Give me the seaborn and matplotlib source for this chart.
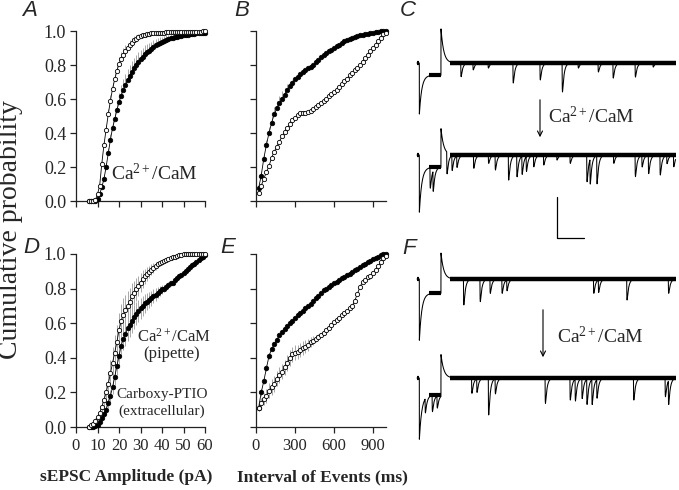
import numpy as np
import matplotlib
matplotlib.use("Agg")
import matplotlib.pyplot as plt
import seaborn as sns

W, H = 679, 490

# ------------------------
# Cumulative sEPSC amplitude (pA), 1 pA bins
# ------------------------
amp_x = np.arange(6, 61)

a_open = [0.0, 0.0, 0.0, 0.005, 0.04, 0.09, 0.22, 0.33, 0.42, 0.51,
          0.59, 0.66, 0.715, 0.765, 0.805, 0.835, 0.86, 0.88, 0.90, 0.915,
          0.93, 0.945, 0.955, 0.963, 0.97, 0.975, 0.979, 0.982, 0.985, 0.987,
          0.988, 0.989, 0.99, 0.99, 0.991, 0.991, 0.992, 0.992, 0.993, 0.993,
          0.993, 0.994, 0.994, 0.994, 0.995, 0.995, 0.995, 0.996, 0.996, 0.996,
          0.997, 0.997, 0.997, 0.998, 0.998]
a_open_sem = [0, 0, 0, 0, 0.005, 0.01, 0.015, 0.02, 0.025, 0.03,
              0.035, 0.04, 0.04, 0.04, 0.04, 0.04, 0.038, 0.035, 0.032, 0.03,
              0.028, 0.025, 0.022, 0.02, 0.018, 0.016, 0.014, 0.012, 0.011, 0.01,
              0.009, 0.009, 0.008, 0.008, 0.007, 0.007, 0.006, 0.006, 0.006, 0.005,
              0.005, 0.005, 0.005, 0.004, 0.004, 0.004, 0.004, 0.003, 0.003, 0.003,
              0.003, 0.002, 0.002, 0.002, 0.002]
a_fill = [0, 0, 0, 0, 0.01, 0.04, 0.08, 0.13, 0.20, 0.28,
          0.36, 0.43, 0.48, 0.535, 0.58, 0.62, 0.655, 0.685, 0.71, 0.735,
          0.76, 0.78, 0.80, 0.82, 0.835, 0.85, 0.865, 0.875, 0.885, 0.895,
          0.905, 0.915, 0.922, 0.93, 0.937, 0.943, 0.948, 0.952, 0.956, 0.96,
          0.963, 0.966, 0.969, 0.972, 0.974, 0.976, 0.978, 0.98, 0.982, 0.984,
          0.986, 0.987, 0.988, 0.989, 0.99]
a_fill_sem = [0, 0, 0, 0, 0.005, 0.01, 0.015, 0.02, 0.025, 0.03,
              0.035, 0.04, 0.045, 0.05, 0.055, 0.06, 0.065, 0.065, 0.065, 0.065,
              0.065, 0.062, 0.06, 0.058, 0.055, 0.052, 0.05, 0.047, 0.045, 0.042,
              0.04, 0.037, 0.035, 0.032, 0.03, 0.028, 0.026, 0.024, 0.022, 0.02,
              0.018, 0.016, 0.015, 0.014, 0.013, 0.012, 0.011, 0.01, 0.009, 0.008,
              0.007, 0.006, 0.005, 0.005, 0.005]

d_open = [0.0, 0.01, 0.02, 0.035, 0.055, 0.08, 0.115, 0.155, 0.20, 0.25,
          0.31, 0.37, 0.43, 0.49, 0.56, 0.61, 0.65, 0.675, 0.70, 0.725,
          0.755, 0.775, 0.795, 0.815, 0.835, 0.855, 0.87, 0.885, 0.895, 0.91,
          0.92, 0.93, 0.94, 0.947, 0.953, 0.96, 0.965, 0.97, 0.975, 0.98,
          0.985, 0.99, 0.995, 0.997, 0.998, 0.998, 0.999, 0.999, 0.999, 1.0,
          1.0, 1.0, 1.0, 1.0, 1.0]
d_open_sem = [0, 0.005, 0.01, 0.015, 0.02, 0.03, 0.04, 0.05, 0.06, 0.07,
              0.08, 0.09, 0.10, 0.10, 0.10, 0.10, 0.095, 0.09, 0.085, 0.08,
              0.075, 0.07, 0.065, 0.06, 0.055, 0.05, 0.045, 0.04, 0.035, 0.03,
              0.027, 0.024, 0.021, 0.018, 0.015, 0.013, 0.011, 0.01, 0.009, 0.008,
              0.007, 0.006, 0.005, 0.004, 0.003, 0.003, 0.002, 0.002, 0.002, 0.001,
              0.001, 0.001, 0.001, 0.001, 0.001]
d_fill = [0, 0, 0, 0.003, 0.012, 0.028, 0.05, 0.075, 0.10, 0.14,
          0.18, 0.23, 0.29, 0.35, 0.41, 0.47, 0.51, 0.54, 0.57, 0.59,
          0.615, 0.635, 0.655, 0.67, 0.685, 0.70, 0.715, 0.725, 0.735, 0.745,
          0.755, 0.765, 0.775, 0.785, 0.795, 0.80, 0.81, 0.82, 0.83, 0.835,
          0.85, 0.86, 0.87, 0.88, 0.89, 0.90, 0.915, 0.925, 0.935, 0.945,
          0.955, 0.965, 0.975, 0.985, 0.995]
d_fill_sem = [0, 0, 0, 0.002, 0.005, 0.01, 0.015, 0.02, 0.025, 0.03,
              0.035, 0.04, 0.045, 0.05, 0.055, 0.06, 0.065, 0.07, 0.07, 0.07,
              0.07, 0.068, 0.065, 0.062, 0.06, 0.057, 0.054, 0.05, 0.047, 0.044,
              0.04, 0.036, 0.032, 0.028, 0.025, 0.022, 0.019, 0.016, 0.013, 0.011,
              0.01, 0.009, 0.008, 0.007, 0.006, 0.005, 0.004, 0.004, 0.003, 0.003,
              0.002, 0.002, 0.002, 0.001, 0.001]

# ------------------------
# Cumulative inter-event interval (ms), 20 ms bins
# ------------------------
iei_x = np.arange(20, 1001, 20)

b_fill = [0.075, 0.15, 0.25, 0.33, 0.40, 0.46, 0.51, 0.545, 0.575, 0.60,
          0.625, 0.655, 0.675, 0.695, 0.715, 0.73, 0.745, 0.757, 0.77, 0.78,
          0.79, 0.80, 0.815, 0.83, 0.845, 0.86, 0.87, 0.88, 0.89, 0.90,
          0.91, 0.92, 0.93, 0.94, 0.947, 0.955, 0.96, 0.965, 0.97, 0.975,
          0.978, 0.981, 0.985, 0.988, 0.991, 0.994, 0.997, 0.999, 1.0, 1.0]
b_fill_sem = [0.01, 0.015, 0.02, 0.03, 0.035, 0.04, 0.045, 0.045, 0.045, 0.045,
              0.04, 0.035, 0.02, 0.015, 0.012, 0.01, 0.01, 0.01, 0.009, 0.009,
              0.009, 0.008, 0.008, 0.008, 0.008, 0.007, 0.007, 0.007, 0.007, 0.006,
              0.006, 0.006, 0.006, 0.005, 0.005, 0.005, 0.005, 0.004, 0.004, 0.004,
              0.004, 0.003, 0.003, 0.003, 0.003, 0.002, 0.002, 0.002, 0.001, 0.001]
b_open = [0.05, 0.09, 0.13, 0.17, 0.205, 0.255, 0.29, 0.32, 0.35, 0.38,
          0.405, 0.43, 0.455, 0.475, 0.49, 0.505, 0.515, 0.52, 0.52, 0.522,
          0.53, 0.54, 0.552, 0.565, 0.575, 0.587, 0.60, 0.615, 0.63, 0.64,
          0.655, 0.67, 0.69, 0.705, 0.72, 0.74, 0.755, 0.77, 0.785, 0.80,
          0.82, 0.84, 0.86, 0.88, 0.90, 0.92, 0.94, 0.96, 0.98, 0.99]
b_open_sem = [0.005, 0.008, 0.01, 0.01, 0.012, 0.012, 0.012, 0.012, 0.01, 0.01,
              0.01, 0.01, 0.01, 0.01, 0.01, 0.009, 0.009, 0.009, 0.009, 0.009,
              0.008, 0.008, 0.008, 0.008, 0.008, 0.008, 0.007, 0.007, 0.007, 0.007,
              0.007, 0.006, 0.006, 0.006, 0.006, 0.006, 0.005, 0.005, 0.005, 0.005,
              0.005, 0.004, 0.004, 0.004, 0.004, 0.003, 0.003, 0.003, 0.002, 0.002]

e_fill = [0.11, 0.20, 0.265, 0.34, 0.41, 0.45, 0.48, 0.505, 0.53, 0.55,
          0.568, 0.585, 0.60, 0.615, 0.63, 0.645, 0.66, 0.672, 0.685, 0.698,
          0.71, 0.73, 0.745, 0.76, 0.775, 0.79, 0.80, 0.81, 0.82, 0.83,
          0.84, 0.85, 0.86, 0.868, 0.876, 0.885, 0.895, 0.905, 0.915, 0.925,
          0.935, 0.945, 0.955, 0.962, 0.97, 0.978, 0.985, 0.995, 1.0, 1.0]
e_fill_sem = [0.02, 0.02, 0.018, 0.016, 0.015, 0.013, 0.012, 0.011, 0.01, 0.01,
              0.01, 0.009, 0.009, 0.009, 0.008, 0.008, 0.008, 0.008, 0.007, 0.007,
              0.007, 0.007, 0.006, 0.006, 0.006, 0.006, 0.005, 0.005, 0.005, 0.005,
              0.005, 0.004, 0.004, 0.004, 0.004, 0.004, 0.003, 0.003, 0.003, 0.003,
              0.003, 0.002, 0.002, 0.002, 0.002, 0.002, 0.001, 0.001, 0.001, 0.001]
e_open = [0.11, 0.14, 0.16, 0.18, 0.21, 0.23, 0.25, 0.28, 0.30, 0.32,
          0.345, 0.37, 0.40, 0.42, 0.43, 0.435, 0.445, 0.455, 0.465, 0.475,
          0.49, 0.50, 0.51, 0.522, 0.533, 0.545, 0.56, 0.575, 0.59, 0.605,
          0.62, 0.632, 0.645, 0.657, 0.67, 0.685, 0.70, 0.73, 0.77, 0.81,
          0.84, 0.85, 0.865, 0.875, 0.89, 0.91, 0.93, 0.955, 0.975, 0.99]
e_open_sem = [0.02, 0.03, 0.035, 0.04, 0.045, 0.045, 0.045, 0.045, 0.045, 0.045,
              0.045, 0.045, 0.045, 0.045, 0.042, 0.04, 0.04, 0.04, 0.038, 0.035,
              0.03, 0.025, 0.02, 0.015, 0.012, 0.01, 0.01, 0.01, 0.009, 0.009,
              0.009, 0.008, 0.008, 0.008, 0.008, 0.007, 0.007, 0.007, 0.007, 0.006,
              0.006, 0.006, 0.005, 0.005, 0.005, 0.004, 0.004, 0.003, 0.003, 0.002]

# ------------------------
# Example current traces: event times (ms after the step) and amplitudes (pA)
# ------------------------
c_top_t = [73, 118, 174, 266, 366, 448, 507, 581, 636, 718, 784]
c_top_a = [6.7, 3.4, 2.5, 9.8, 8.3, 14.2, 2.5, 4.4, 7.4, 6.9, 2.0]
c_bot_t = [-41, -30, 21, 40, 58, 120, 175, 200, 249, 280, 299, 315, 342,
           379, 428, 477, 539, 551, 576, 638, 718, 743, 767, 810, 835, 860]
c_bot_a = [10, 10, 10.6, 7.3, 5.7, 6.5, 4.1, 7.3, 12.3, 10.6, 9.0, 7.3, 5.7,
           4.9, 2.5, 4.1, 13.1, 12.3, 13.9, 4.1, 10.6, 5.7, 9.0, 9.8, 4.1, 5.7]
f_top_t = [83, 144, 181, 225, 243, 564, 582, 687, 841]
f_top_a = [12.7, 11.1, 7.0, 7.0, 5.4, 7.0, 6.2, 10.3, 7.0]
f_bot_t = [-59, -33, -15, 113, 132, 175, 200, 385, 477, 496, 521, 539, 558,
           576, 712, 829, 841]
f_bot_a = [7, 8, 6, 7.5, 6.7, 18.1, 7.5, 12.4, 10.8, 10.8, 9.9, 12.4, 12.4,
           9.2, 10.8, 9.2, 11.6]

# capacitive transient / holding step / rebound spike (pA) per trace
trace_transient = [25, 28, 30, 30]
trace_step = [6, 6, 7, 8.3]
trace_spike = [16.7, 13, 12.7, 12.2]

# ------------------------
# Style
# ------------------------
sns.set_style("ticks")
plt.rcParams["font.family"] = ["Liberation Serif", "DejaVu Serif"]
plt.rcParams["mathtext.fontset"] = "custom"
plt.rcParams["mathtext.rm"] = "Liberation Serif"
plt.rcParams["mathtext.it"] = "Liberation Serif:italic"

GRAY = "#a8a8a8"
fig = plt.figure(figsize=(W / 100, H / 100), dpi=100)
fig.patch.set_facecolor("white")


def rect(l, t, r, b):
    return [l / W, 1 - b / H, (r - l) / W, (b - t) / H]


def fpos(x, y):
    return x / W, 1 - y / H


def cdf_panel(ax, x, opn, opn_sem, fil, fil_sem, both_sides):
    opn, fil = np.array(opn), np.array(fil)
    for y, s in ((fil, np.array(fil_sem)), (opn, np.array(opn_sem))):
        lo = y - s if both_sides else y
        ax.vlines(x, lo, y + s, color=GRAY, lw=0.7, zorder=1)
    sns.lineplot(x=x, y=fil, ax=ax, color="k", lw=0.6, marker="o",
                 markersize=3.3, markerfacecolor="k", markeredgecolor="k",
                 markeredgewidth=0.5, errorbar=None, clip_on=False, zorder=3)
    sns.lineplot(x=x, y=opn, ax=ax, color="k", lw=0.6, marker="o",
                 markersize=3.1, markerfacecolor="white", markeredgecolor="k",
                 markeredgewidth=0.6, errorbar=None, clip_on=False, zorder=4)
    ax.set_ylim(0, 1)
    ax.set_yticks(np.arange(0, 1.01, 0.2))
    sns.despine(ax=ax)
    for sp in ("left", "bottom"):
        ax.spines[sp].set_linewidth(0.9)
        ax.spines[sp].set_color("#222222")
    ax.tick_params(direction="out", length=4, width=0.9, color="#222222",
                   labelsize=13, pad=3)
    ax.set_xlabel("")
    ax.set_ylabel("")


ax_a = fig.add_axes(rect(76, 31, 205, 201))
ax_b = fig.add_axes(rect(256, 31, 386, 201))
ax_d = fig.add_axes(rect(76, 254, 205, 427))
ax_e = fig.add_axes(rect(256, 254, 386, 427))

cdf_panel(ax_a, amp_x, a_open, a_open_sem, a_fill, a_fill_sem, False)
cdf_panel(ax_b, iei_x, b_open, b_open_sem, b_fill, b_fill_sem, False)
cdf_panel(ax_d, amp_x, d_open, d_open_sem, d_fill, d_fill_sem, True)
cdf_panel(ax_e, iei_x, e_open, e_open_sem, e_fill, e_fill_sem, True)

for ax in (ax_a, ax_d):
    ax.set_xlim(0, 60)
    ax.set_xticks(range(0, 61, 10))
    ax.set_yticklabels([f"{v:.1f}" for v in np.arange(0, 1.01, 0.2)])
for ax in (ax_b, ax_e):
    ax.set_xlim(0, 1000)
    ax.set_xticks([0, 300, 600, 900])
    ax.set_yticklabels([])
ax_a.set_xticklabels([])
ax_b.set_xticklabels([])
ax_d.tick_params(axis="x", pad=4, labelsize=12)
ax_e.tick_params(axis="x", pad=4, labelsize=12)

# ------------------------
# Traces
# ------------------------
MS_PER_PX = 3.7
PA_PER_PX = 0.49
T_START, PULSE_ON, T_END = -89, -80, 868
t = np.arange(T_START, T_END, 0.25)


def build_trace(trans, step, spike, ev_t, ev_a):
    y = np.zeros_like(t)
    on = (t >= PULSE_ON) & (t < 0)
    y[on] = -step - (trans - step) * np.exp(-(t[on] - PULSE_ON) / 9.0)
    post = t >= 0
    y[post] = spike * np.exp(-t[post] / 10.0)
    dd = np.linspace(0, 30, 601)
    norm = ((1 - np.exp(-dd / 0.6)) * np.exp(-dd / 6.0)).max()
    for ti, ai in zip(ev_t, ev_a):
        d = t - ti
        m = d >= 0
        y[m] -= ai * (1 - np.exp(-d[m] / 0.6)) * np.exp(-d[m] / 6.0) / norm
    return y


traces = [(c_top_t, c_top_a, 63), (c_bot_t, c_bot_a, 155),
          (f_top_t, f_top_a, 279), (f_bot_t, f_bot_a, 378)]
trace_axes = []
for i, (ev_t, ev_a, base_px) in enumerate(traces):
    top_pa, bot_pa = 25, -45
    ax = fig.add_axes(rect(410, base_px - top_pa / PA_PER_PX,
                           679, base_px - bot_pa / PA_PER_PX))
    ax.set_xlim((410 - 441) * MS_PER_PX, (679 - 441) * MS_PER_PX)
    ax.set_ylim(bot_pa, top_pa)
    ax.axis("off")
    ax.patch.set_alpha(0)
    y = build_trace(trace_transient[i], trace_step[i], trace_spike[i], ev_t, ev_a)
    # superimposed sweeps form a thick noise band
    ax.plot([T_START, PULSE_ON - 2], [0, 0], color="k", lw=3.0, solid_capstyle="butt")
    ax.plot([PULSE_ON + 35, -1], [-trace_step[i]] * 2, color="k", lw=3.0,
            solid_capstyle="butt")
    ax.plot([32, T_END], [0, 0], color="k", lw=3.2, solid_capstyle="butt")
    ax.plot(t, y, color="k", lw=0.75)
    trace_axes.append(ax)

# scale bar (20 pA, 100 ms)
sb_t0 = (557 - 441) * MS_PER_PX
sb_y0 = -(238 - 155) * PA_PER_PX
trace_axes[1].plot([sb_t0, sb_t0, sb_t0 + 100], [sb_y0 + 20, sb_y0, sb_y0],
                   color="k", lw=0.9, clip_on=False)

# arrows
for (x0, y0, y1) in ((540, 97, 140), (543, 307, 360)):
    fig.add_artist(matplotlib.patches.FancyArrowPatch(
        fpos(x0, y0), fpos(x0, y1), transform=fig.transFigure,
        arrowstyle="->", mutation_scale=9, lw=0.8, color="k"))

# ------------------------
# Text
# ------------------------
cam = "Ca$^{\\mathrm{2+}}$/CaM"
fig.text(*fpos(548, 123), cam, fontsize=14, va="baseline", ha="left")
fig.text(*fpos(557, 343), cam, fontsize=14, va="baseline", ha="left")
fig.text(*fpos(111, 180), cam, fontsize=14, va="baseline", ha="left")
fig.text(*fpos(174, 342), cam, fontsize=12, va="baseline", ha="center")
fig.text(*fpos(172, 358), "(pipette)", fontsize=12, va="baseline", ha="center")
fig.text(*fpos(162, 398), "Carboxy-PTIO", fontsize=11, va="baseline", ha="center")
fig.text(*fpos(162, 415), "(extracellular)", fontsize=11, va="baseline", ha="center")

fig.text(*fpos(11, 230), "Cumulative probability", fontsize=20, rotation=90,
         ha="center", va="center")
fig.text(*fpos(126, 477), "sEPSC Amplitude (pA)", fontsize=12.5,
         fontweight="bold", ha="center", va="center")
fig.text(*fpos(322, 477), "Interval of Events (ms)", fontsize=12.5,
         fontweight="bold", ha="center", va="center")

for letter, (x, y) in {"A": (30, 11), "B": (242, 11), "C": (408, 11),
                       "D": (31, 247), "E": (228, 247), "F": (409, 248)}.items():
    fig.text(*fpos(x, y), letter, fontsize=16, fontstyle="italic",
             family=["Liberation Sans", "DejaVu Sans"], ha="center", va="center",
             bbox=dict(facecolor="white", edgecolor="none", pad=0) if letter == "D" else None)

fig.savefig("out.png", dpi=100, facecolor="white")
